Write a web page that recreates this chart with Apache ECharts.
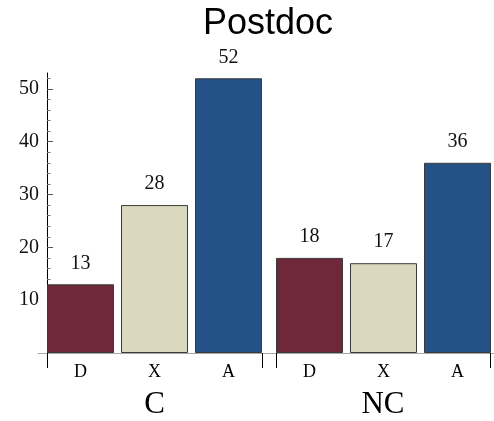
<!DOCTYPE html>
<html>
<head>
<meta charset="utf-8">
<script src="https://cdn.jsdelivr.net/npm/echarts@6/dist/echarts.min.js"></script>
<style>
html,body{margin:0;padding:0;background:#fff;}
#chart{width:494px;height:421px;}
</style>
</head>
<body>
<div id="chart"></div>
<script>
// ---- data ----
const titleText = 'Postdoc';
const groups = ['C', 'NC'];
const categories = ['D', 'X', 'A'];
const valuesC = [13, 28, 52];
const valuesNC = [18, 17, 36];
const yMajorTicks = [10, 20, 30, 40, 50];
const yMinorTicks = [2, 4, 6, 8, 12, 14, 16, 18, 22, 24, 26, 28, 32, 34, 36, 38, 42, 44, 46, 48, 52];
const yMin = 0, yMax = 53;

// ---- styles ----
const barColors = ['#6e2839', '#dad8bf', '#255286'];
const serif = 'Liberation Serif';
const plotTop = 73, plotHeight = 280;

const chart = echarts.init(document.getElementById('chart'), null, {renderer: 'canvas'});

function barSeries(vals, idx) {
  return {
    type: 'bar',
    xAxisIndex: idx, yAxisIndex: idx,
    barWidth: 67,
    data: vals.map((v, i) => ({value: v, itemStyle: {color: barColors[i]}})),
    itemStyle: {borderColor: '#3a3a3a', borderWidth: 1},
    label: {show: true, position: 'top', distance: 11, fontFamily: serif, fontSize: 20, color: '#111'},
    animation: false
  };
}

const hiddenY = (g) => ({type: 'value', gridIndex: g, min: yMin, max: yMax, show: false});
const mkGrid = (left, width) => ({left: left, width: width, top: plotTop, height: plotHeight,
  outerBoundsMode: 'none', containLabel: false});

const option = {
  animation: false,
  title: {
    text: titleText, left: 203, top: 6, padding: 0,
    textStyle: {fontFamily: 'Liberation Sans', fontWeight: 'normal', fontSize: 36, color: '#000'}
  },
  grid: [
    mkGrid(43.5, 222),
    mkGrid(272.5, 222),
    mkGrid(47, 215),
    mkGrid(276, 214),
    mkGrid(38, 456)
  ],
  xAxis: [
    {type: 'category', gridIndex: 0, data: categories, axisLine: {show: false}, axisTick: {show: false},
     axisLabel: {margin: 10, fontFamily: serif, fontSize: 18, color: '#000'}},
    {type: 'category', gridIndex: 1, data: categories, axisLine: {show: false}, axisTick: {show: false},
     axisLabel: {margin: 10, fontFamily: serif, fontSize: 18, color: '#000'}},
    {type: 'category', gridIndex: 2, data: categories, axisLine: {show: false},
     axisTick: {show: true, interval: (i) => i === 0, length: 15, lineStyle: {color: '#000', width: 1}},
     axisLabel: {show: false},
     name: groups[0], nameLocation: 'middle', nameGap: 36,
     nameTextStyle: {fontFamily: serif, fontSize: 31, color: '#000'}},
    {type: 'category', gridIndex: 3, data: categories, axisLine: {show: false},
     axisTick: {show: true, interval: (i) => i === 0, length: 15, lineStyle: {color: '#000', width: 1}},
     axisLabel: {show: false},
     name: groups[1], nameLocation: 'middle', nameGap: 36,
     nameTextStyle: {fontFamily: serif, fontSize: 31, color: '#000'}},
    {type: 'value', gridIndex: 4, min: 0, max: 1, axisLine: {show: true, lineStyle: {color: '#a8a8a8', width: 1}},
     axisTick: {show: false}, axisLabel: {show: false}, splitLine: {show: false}}
  ],
  yAxis: [
    hiddenY(0),
    hiddenY(1),
    {type: 'value', gridIndex: 2, min: yMin, max: yMax, position: 'left',
     axisLine: {show: true, lineStyle: {color: '#000', width: 1}},
     axisTick: {show: true, inside: true, length: 6, customValues: yMajorTicks, lineStyle: {color: '#555'}},
     axisLabel: {show: true, customValues: yMajorTicks, margin: 8, fontFamily: serif, fontSize: 20, color: '#111'},
     splitLine: {show: false}},
    hiddenY(3),
    hiddenY(4),
    {type: 'value', gridIndex: 2, min: yMin, max: yMax, position: 'left',
     axisLine: {show: false},
     axisTick: {show: true, inside: true, length: 3.5, customValues: yMinorTicks, lineStyle: {color: '#777'}},
     axisLabel: {show: false}, splitLine: {show: false}}
  ],
  series: [barSeries(valuesC, 0), barSeries(valuesNC, 1)]
};
chart.setOption(option);
</script>
</body>
</html>
